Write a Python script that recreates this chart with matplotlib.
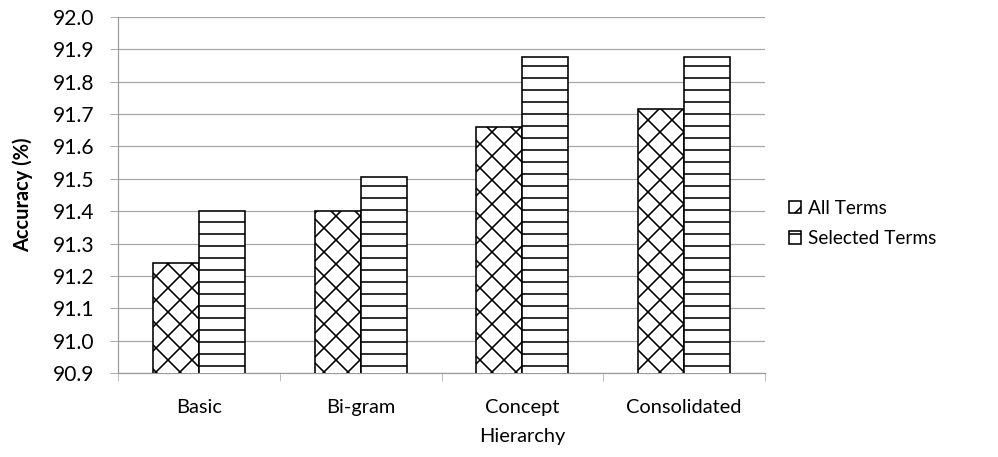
import numpy as np
import matplotlib
matplotlib.use("Agg")
import matplotlib.pyplot as plt

categories = ["Basic", "Bi-gram", "Concept\nHierarchy", "Consolidated"]
all_terms = [91.24, 91.40, 91.66, 91.715]
selected_terms = [91.40, 91.505, 91.875, 91.875]
yticks = np.round(np.arange(90.9, 92.01, 0.1), 1)

plt.rcParams['font.family'] = ['Lato', 'DejaVu Sans']
plt.rcParams['hatch.linewidth'] = 1.6

fig = plt.figure(figsize=(998/72, 457/72), dpi=72)
ax = fig.add_axes([118/998, 1-373/457, (765-118)/998, (373-17)/457])

x = np.arange(len(categories))
w = 0.285
ax.bar(x - w/2, all_terms, w, color='white', edgecolor='black', lw=1.6,
       hatch='x', label='All Terms', zorder=3)
ax.bar(x + w/2, selected_terms, w, color='white', edgecolor='black', lw=1.6,
       hatch='-', label='Selected Terms', zorder=3)

ax.set_ylim(90.9, 92.0)
ax.set_xlim(-0.5, len(categories) - 0.5)
ax.set_yticks(yticks)
ax.set_yticklabels([f"{v:.1f}" for v in yticks], fontsize=21)
ax.set_xticks(x)
ax.set_xticklabels(categories, fontsize=20, linespacing=1.85, va='top')
ax.set_xticks(np.arange(len(categories) + 1) - 0.5, minor=True)
ax.tick_params(axis='x', which='major', length=0, pad=26)
ax.tick_params(axis='x', which='minor', length=8, color='#999999')
ax.tick_params(axis='y', length=8, color='#999999', pad=16)
ax.grid(axis='y', color='#a6a6a6', lw=1.2, zorder=0)
for s in ['top', 'right']:
    ax.spines[s].set_visible(False)
for s in ['left', 'bottom']:
    ax.spines[s].set_color('#999999')
    ax.spines[s].set_linewidth(1.2)
ax.set_ylabel('Accuracy (%)', fontsize=20, fontweight='bold')
ax.yaxis.set_label_coords(-0.131, 0.5)

leg = ax.legend(loc='center left', bbox_to_anchor=(1.01, 0.42), frameon=False,
                fontsize=19, handlelength=0.65, handleheight=0.65,
                handletextpad=0.35, labelspacing=0.72)

fig.savefig("out.png", dpi=72)
